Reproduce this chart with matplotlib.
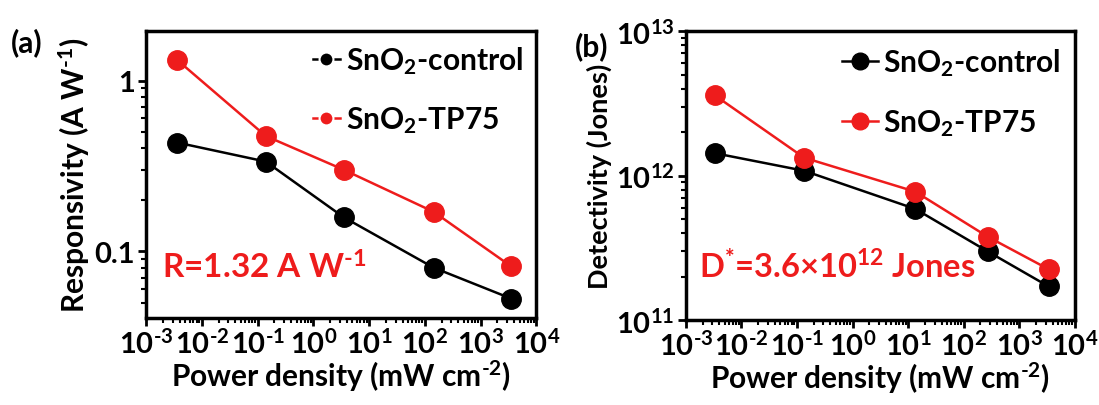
import matplotlib
matplotlib.use('Agg')
import matplotlib.pyplot as plt
from matplotlib.lines import Line2D
from matplotlib.ticker import LogLocator, FixedLocator, FixedFormatter, NullFormatter
import numpy as np

matplotlib.rcParams.update({
    'font.family': 'Lato',
    'font.weight': 'bold',
    'mathtext.fontset': 'custom',
    'mathtext.rm': 'Lato:bold',
    'mathtext.it': 'Lato:bold',
    'mathtext.bf': 'Lato:bold',
    'axes.linewidth': 2.5,
})

# data
power_a = [0.0036, 0.14, 3.5, 144, 3550]
resp_control = [0.433, 0.335, 0.158, 0.080, 0.0527]
resp_tp75 = [1.32, 0.473, 0.30, 0.170, 0.0814]

power_b = [0.0033, 0.135, 13.5, 270, 3380]
det_control = [1.43e12, 1.08e12, 5.88e11, 2.99e11, 1.71e11]
det_tp75 = [3.6e12, 1.33e12, 7.74e11, 3.78e11, 2.25e11]

hy = '\u2010'
x_ticks = [1e-3, 1e-2, 1e-1, 1e0, 1e1, 1e2, 1e3, 1e4]
x_ticklabels = ['$10^{%s3}$' % hy, '$10^{%s2}$' % hy, '$10^{%s1}$' % hy, '$10^{0}$',
                '$10^{1}$', '$10^{2}$', '$10^{3}$', '$10^{4}$']

red = '#ee1c1c'
fs = 21.5
tfs = 21

fig = plt.figure(figsize=(10.99, 4.06), dpi=100)
ax1 = fig.add_axes([0.133, 0.214, 0.355, 0.707])
ax2 = fig.add_axes([0.624, 0.209, 0.354, 0.712])


def style_x(ax):
    ax.set_xscale('log')
    ax.set_xlim(1e-3, 1e4)
    ax.xaxis.set_major_locator(FixedLocator(x_ticks))
    ax.xaxis.set_major_formatter(FixedFormatter(x_ticklabels))
    ax.xaxis.set_minor_locator(LogLocator(base=10, subs=np.arange(2, 10), numticks=20))
    ax.xaxis.set_minor_formatter(NullFormatter())
    ax.tick_params(which='major', direction='out', length=6, width=2, labelsize=tfs, pad=1)
    ax.tick_params(which='minor', direction='out', length=3.5, width=1.5)
    ax.set_xlabel('Power density (mW cm$^{%s2}$)' % hy, fontsize=fs, fontweight='bold', labelpad=0)


# (a) responsivity
ax1.plot(power_a, resp_control, '-o', color='k', lw=1.8, ms=14)
ax1.plot(power_a, resp_tp75, '-o', color=red, lw=1.8, ms=14)
ax1.set_yscale('log')
ax1.set_ylim(0.0405, 1.95)
ax1.yaxis.set_major_locator(FixedLocator([0.1, 1]))
ax1.yaxis.set_major_formatter(FixedFormatter(['0.1', '1']))
ax1.yaxis.set_minor_locator(LogLocator(base=10, subs=np.arange(2, 10), numticks=20))
ax1.yaxis.set_minor_formatter(NullFormatter())
style_x(ax1)
ax1.set_ylabel('Responsivity (A W$^{%s1}$)' % hy, fontsize=fs, fontweight='bold', labelpad=2)
handles_a = [
    Line2D([], [], color='k', lw=1.8, marker='o', ms=10, mec='white', mfc='k', mew=1.5),
    Line2D([], [], color=red, lw=1.8, marker='o', ms=10, mec='white', mfc=red, mew=1.5),
]
ax1.legend(handles_a, ['SnO$_2$-control', 'SnO$_2$-TP75'], loc='upper right',
           frameon=False, fontsize=fs, handlelength=0.9, handletextpad=0.2,
           labelspacing=0.95, borderaxespad=0.05)
ax1.text(0.04, 0.18, 'R=1.32 A W$^{%s1}$' % hy, transform=ax1.transAxes, color=red,
         fontsize=24, fontweight='bold', va='center')
fig.text(0.010, 0.895, '(a)', fontsize=fs, fontweight='bold', va='center')

# (b) detectivity
ax2.plot(power_b, det_control, '-o', color='k', lw=1.8, ms=14)
ax2.plot(power_b, det_tp75, '-o', color=red, lw=1.8, ms=14)
ax2.set_yscale('log')
ax2.set_ylim(1e11, 1e13)
ax2.yaxis.set_major_locator(FixedLocator([1e11, 1e12, 1e13]))
ax2.yaxis.set_major_formatter(FixedFormatter(['$10^{11}$', '$10^{12}$', '$10^{13}$']))
ax2.yaxis.set_minor_locator(LogLocator(base=10, subs=np.arange(2, 10), numticks=20))
ax2.yaxis.set_minor_formatter(NullFormatter())
style_x(ax2)
ax2.set_ylabel('Detectivity (Jones)', fontsize=19.5, fontweight='bold', labelpad=3)
handles_b = [
    Line2D([], [], color='k', lw=1.8, marker='o', ms=12),
    Line2D([], [], color=red, lw=1.8, marker='o', ms=12),
]
ax2.legend(handles_b, ['SnO$_2$-control', 'SnO$_2$-TP75'], loc='upper right',
           frameon=False, fontsize=fs, handlelength=1.2, handletextpad=0.15,
           labelspacing=1.0, borderaxespad=0.1)
ax2.text(0.035, 0.19, 'D$^{*}$=3.6\u00d710$^{12}$ Jones', transform=ax2.transAxes,
         color=red, fontsize=23.5, fontweight='bold', va='center')
fig.text(0.523, 0.885, '(b)', fontsize=fs, fontweight='bold', va='center')

for ax in (ax1, ax2):
    ax.tick_params(axis='y', which='major', direction='out', length=6, width=2, labelsize=tfs, pad=2)
    ax.tick_params(axis='y', which='minor', direction='out', length=3.5, width=1.5)

fig.savefig('out.png', dpi=100)
